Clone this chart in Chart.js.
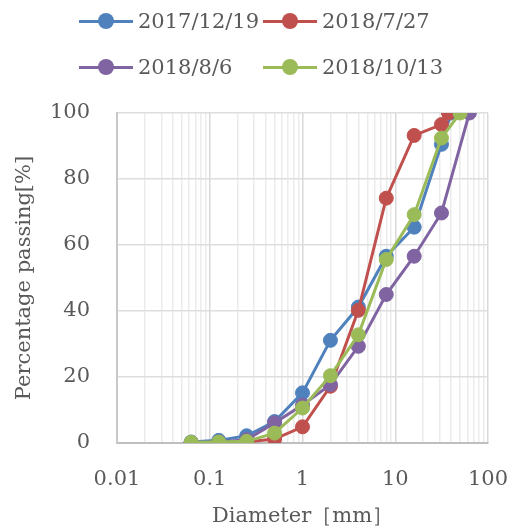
<!DOCTYPE html>
<html>
<head>
<meta charset="utf-8">
<script src="https://cdn.jsdelivr.net/npm/chart.js@4/dist/chart.umd.min.js"></script>
<style>
  html, body { margin: 0; padding: 0; background: #fff; }
  #wrap { position: relative; width: 512px; height: 529px; overflow: hidden; }
  #legend {
    position: absolute; left: 79px; top: 8px;
    display: grid; grid-template-columns: 184px auto; row-gap: 20px;
    font-family: 'DejaVu Serif', serif; font-size: 21px; color: #595959;
  }
  .item { display: flex; align-items: center; height: 26px; white-space: nowrap; }
  .swatch { position: relative; width: 54px; height: 3px; margin-right: 5px; }
  .swatch i { position: absolute; left: 19px; top: -6.5px; width: 16px; height: 16px; border-radius: 50%; }
</style>
</head>
<body>
<div id="wrap">
  <canvas id="chart" width="512" height="529"></canvas>
  <div id="legend"></div>
</div>
<script>
// sieve sizes (mm)
const sizes = [0.063, 0.125, 0.25, 0.5, 1, 2, 4, 8, 16, 31.5];

const seriesNames = ["2017/12/19", "2018/7/27", "2018/8/6", "2018/10/13"];
const seriesColors = ["#4F81BD", "#C0504D", "#8064A2", "#9BBB59"];

// each series has the common sizes plus its own max size
const maxSizes = [40, 37.5, 63, 50];

const passing1219 = [0.3, 0.8, 2.2, 6.5, 15.2, 31.1, 41.2, 56.6, 65.4, 90.5, 100];
const passing0727 = [0.1, 0.1, 0.3, 1.2, 4.9, 17.2, 40.2, 74.2, 93.2, 96.5, 100];
const passing0806 = [0.1, 0.3, 1.0, 6.1, 11.5, 17.7, 29.3, 45.0, 56.6, 69.7, 100];
const passing1013 = [0.2, 0.3, 0.5, 3.0, 10.6, 20.4, 32.8, 55.6, 69.2, 92.4, 100];
const seriesValues = [passing1219, passing0727, passing0806, passing1013];

const xMajorTicks = [0.01, 0.1, 1, 10, 100];
const xTickLabels = ["0.01", "0.1", "1", "10", "100"];
const yTicks = [0, 20, 40, 60, 80, 100];

// legend
const legend = document.getElementById("legend");
seriesNames.forEach((name, i) => {
  const item = document.createElement("div");
  item.className = "item";
  const sw = document.createElement("span");
  sw.className = "swatch";
  sw.style.background = seriesColors[i];
  const dot = document.createElement("i");
  dot.style.background = seriesColors[i];
  sw.appendChild(dot);
  item.appendChild(sw);
  item.appendChild(document.createTextNode(name));
  legend.appendChild(item);
});

// minor grid lines 1..9 in every decade
const xGridValues = [];
for (let d = 0; d < xMajorTicks.length - 1; d++) {
  for (let k = 1; k <= 9; k++) {
    xGridValues.push(k * xMajorTicks[d]);
  }
}
xGridValues.push(xMajorTicks[xMajorTicks.length - 1]);

function isMajor(v) {
  return xMajorTicks.some((m) => Math.abs(v - m) < m * 1e-6);
}

const datasets = seriesNames.map((name, i) => {
  const xs = sizes.concat([maxSizes[i]]);
  return {
    label: name,
    data: xs.map((x, j) => ({ x: x, y: seriesValues[i][j] })),
    borderColor: seriesColors[i],
    backgroundColor: seriesColors[i],
    pointBackgroundColor: seriesColors[i],
    pointBorderColor: seriesColors[i],
    borderWidth: 3,
    pointRadius: 7,
    pointBorderWidth: 1,
    showLine: true,
    order: seriesNames.length - i, // later series drawn on top
  };
});

Chart.defaults.font.family = "'DejaVu Serif', serif";
Chart.defaults.font.size = 21;
Chart.defaults.color = "#595959";

new Chart(document.getElementById("chart"), {
  type: "scatter",
  data: { datasets: datasets },
  options: {
    responsive: false,
    animation: false,
    layout: { padding: { top: 113, right: 24, bottom: 0, left: 0 } },
    plugins: {
      legend: { display: false },
      tooltip: { enabled: false },
    },
    scales: {
      x: {
        type: "logarithmic",
        min: 0.01,
        max: 100,
        afterBuildTicks: (axis) => {
          axis.ticks = xGridValues.map((v) => ({ value: v }));
        },
        afterFit: (scale) => {
          scale.height = 86;
          scale.paddingLeft = 0;
          scale.paddingRight = 0;
        },
        ticks: {
          autoSkip: false,
          maxRotation: 0,
          padding: 24,
          callback: (value) => {
            const idx = xMajorTicks.findIndex((m) => Math.abs(value - m) < m * 1e-6);
            return idx >= 0 ? xTickLabels[idx] : "";
          },
        },
        grid: {
          drawTicks: false,
          color: (ctx) => (ctx.tick && isMajor(ctx.tick.value) ? "#d9d9d9" : "#ebebeb"),
          lineWidth: 1.5,
        },
        border: { color: "#bfbfbf", width: 2 },
        title: {
          display: true,
          text: "Diameter［mm］",
          padding: { top: 0, bottom: 0 },
        },
      },
      y: {
        min: 0,
        max: 100,
        afterBuildTicks: (axis) => {
          axis.ticks = yTicks.map((v) => ({ value: v }));
        },
        afterFit: (scale) => {
          scale.width = 117;
          scale.paddingTop = 0;
          scale.paddingBottom = 0;
        },
        ticks: { padding: 27 },
        grid: { drawTicks: false, color: "#dddddd", lineWidth: 1.5 },
        border: { color: "#c8c8c8", width: 2 },
        title: {
          display: true,
          text: "Percentage passing[%]",
          padding: { top: 12, bottom: 0 },
        },
      },
    },
  },
});
</script>
</body>
</html>
